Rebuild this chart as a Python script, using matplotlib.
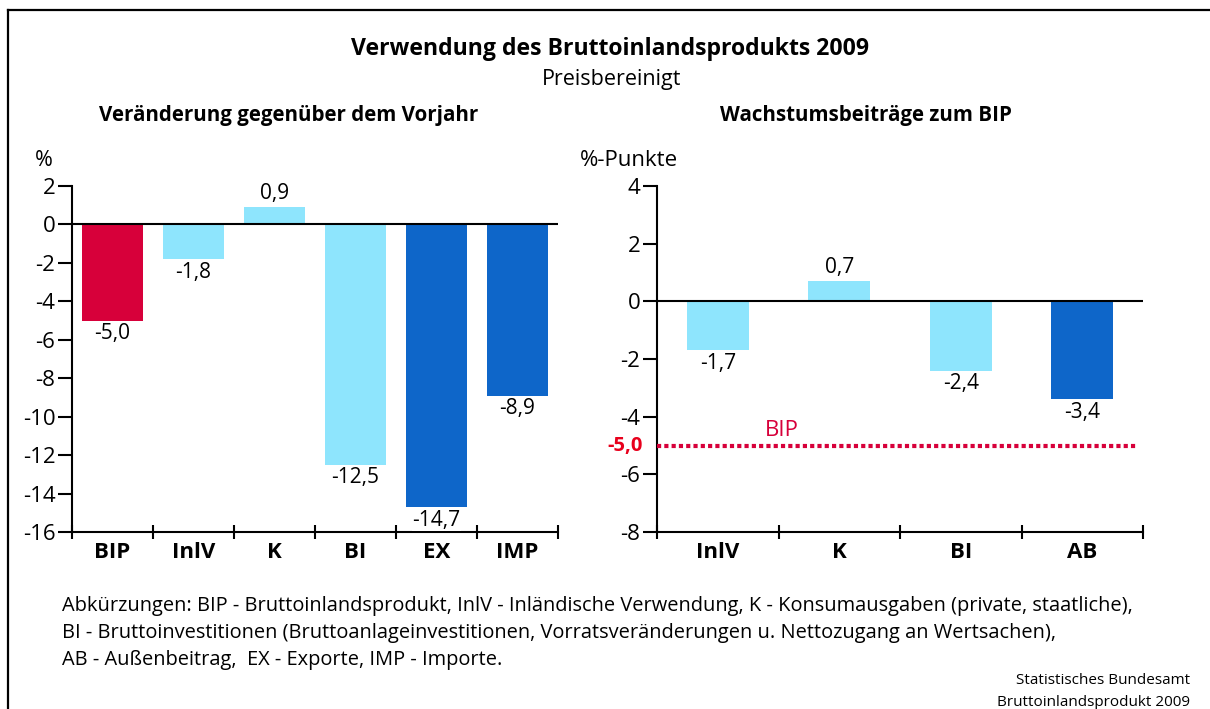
import matplotlib
matplotlib.use("Agg")
import matplotlib.pyplot as plt
from matplotlib.lines import Line2D

plt.rcParams['font.family'] = ['Open Sans', 'DejaVu Sans']

W, H = 1210, 709

# ---- data ----
left_cats = ["BIP", "InlV", "K", "BI", "EX", "IMP"]
left_vals = [-5.0, -1.8, 0.9, -12.5, -14.7, -8.9]
left_labels = ["-5,0", "-1,8", "0,9", "-12,5", "-14,7", "-8,9"]
left_colors = ["#d7003a", "#8ee5fd", "#8ee5fd", "#8ee5fd", "#0e66c9", "#0e66c9"]
left_yticks = [2, 0, -2, -4, -6, -8, -10, -12, -14, -16]

right_cats = ["InlV", "K", "BI", "AB"]
right_vals = [-1.7, 0.7, -2.4, -3.4]
right_labels = ["-1,7", "0,7", "-2,4", "-3,4"]
right_colors = ["#8ee5fd", "#8ee5fd", "#8ee5fd", "#0e66c9"]
right_yticks = [4, 2, 0, -2, -4, -6, -8]
bip_value = -5.0
bip_label = "-5,0"

RED = "#d7003a"


def px_axes(fig, x0, x1, ytop, ybot):
    return fig.add_axes([x0 / W, 1 - ybot / H, (x1 - x0) / W, (ybot - ytop) / H])


fig = plt.figure(figsize=(W / 100, H / 100), dpi=100)

# frame (left + top)
fig.add_artist(Line2D([8 / W, 8 / W], [0, 1 - 10 / H], color="black", lw=1.6))
fig.add_artist(Line2D([8 / W, 1], [1 - 10 / H, 1 - 10 / H], color="black", lw=1.6))

fig.text(610 / W, 1 - 49 / H, "Verwendung des Bruttoinlandsprodukts 2009",
         ha="center", va="center", fontsize=16.6, fontweight="bold")
fig.text(612 / W, 1 - 80 / H, "Preisbereinigt", ha="center", va="center", fontsize=15.5)
fig.text(289 / W, 1 - 115 / H, "Veränderung gegenüber dem Vorjahr",
         ha="center", va="center", fontsize=14.8, fontweight="bold")
fig.text(866 / W, 1 - 115 / H, "Wachstumsbeiträge zum BIP",
         ha="center", va="center", fontsize=14.8, fontweight="bold")
fig.text(35 / W, 1 - 160 / H, "%", ha="left", va="center", fontsize=15.5)
fig.text(580 / W, 1 - 160 / H, "%-Punkte", ha="left", va="center", fontsize=16)

TICK_FS = 16
CAT_FS = 16
VAL_FS = 15


def style_axes(ax, n, yticks, ylim):
    ax.set_xlim(-0.5, n - 0.5)
    ax.set_ylim(*ylim)
    for s in ["top", "right"]:
        ax.spines[s].set_visible(False)
    ax.spines["left"].set_linewidth(1.5)
    ax.spines["bottom"].set_linewidth(1.5)
    ax.set_yticks(yticks)
    ax.set_yticklabels([str(t) for t in yticks])
    ax.tick_params(axis="y", length=10, width=1.5, labelsize=TICK_FS, pad=2)
    ax.set_xticks([i - 0.5 for i in range(n + 1)])
    ax.set_xticklabels([])
    ax.tick_params(axis="x", which="major", length=10, width=1.5, direction="inout")
    ax.axhline(0, color="black", lw=1.5, zorder=3)
    ax.patch.set_alpha(0)


# ---- left chart ----
axL = px_axes(fig, 72, 558, 186, 532)
style_axes(axL, len(left_cats), left_yticks, (-16, 2))
axL.bar(range(len(left_cats)), left_vals, width=0.75, color=left_colors, zorder=2)
axL.set_xticks(range(len(left_cats)), minor=True)
axL.set_xticklabels(left_cats, minor=True, fontsize=CAT_FS, fontweight="bold")
axL.tick_params(axis="x", which="minor", length=0, pad=7)
for i, (v, lab) in enumerate(zip(left_vals, left_labels)):
    if v >= 0:
        axL.annotate(lab, (i, v), xytext=(0, 2), textcoords="offset points",
                     ha="center", va="bottom", fontsize=VAL_FS)
    else:
        bbox = dict(facecolor="white", edgecolor="none", pad=0.5) if i == 4 else None
        axL.annotate(lab, (i, v), xytext=(0, -2), textcoords="offset points",
                     ha="center", va="top", fontsize=VAL_FS, bbox=bbox, zorder=5)

# ---- right chart ----
axR = px_axes(fig, 657, 1143, 186, 532)
style_axes(axR, len(right_cats), right_yticks, (-8, 4))
axR.bar(range(len(right_cats)), right_vals, width=0.51, color=right_colors, zorder=2)
axR.set_xticks(range(len(right_cats)), minor=True)
axR.set_xticklabels(right_cats, minor=True, fontsize=CAT_FS, fontweight="bold")
axR.tick_params(axis="x", which="minor", length=0, pad=7)
for i, (v, lab) in enumerate(zip(right_vals, right_labels)):
    if v >= 0:
        axR.annotate(lab, (i, v), xytext=(0, 2), textcoords="offset points",
                     ha="center", va="bottom", fontsize=VAL_FS)
    else:
        axR.annotate(lab, (i, v), xytext=(0, -2), textcoords="offset points",
                     ha="center", va="top", fontsize=VAL_FS)
axR.plot([-0.5, 3.45], [bip_value, bip_value], color=RED, lw=3,
         linestyle=(0, (1, 0.75)), solid_capstyle="butt", dash_capstyle="butt", zorder=4,
         clip_on=False)
axR.annotate(bip_label, (-0.5, bip_value), xytext=(-10, 0), textcoords="offset points",
             ha="right", va="center", color="#e8001c", fontsize=14.5, fontweight="bold")
axR.annotate("BIP", (0.39, bip_value), xytext=(0, 3), textcoords="offset points",
             ha="left", va="bottom", color=RED, fontsize=16)

# ---- footnotes ----
notes = [
    "Abkürzungen: BIP - Bruttoinlandsprodukt, InlV - Inländische Verwendung, K - Konsumausgaben (private, staatliche),",
    "BI - Bruttoinvestitionen (Bruttoanlageinvestitionen, Vorratsveränderungen u. Nettozugang an Wertsachen),",
    "AB - Außenbeitrag,  EX - Exporte, IMP - Importe.",
]
for k, line in enumerate(notes):
    fig.text(62 / W, 1 - (606 + 27 * k) / H, line, ha="left", va="center", fontsize=14.4)
fig.text(1190 / W, 1 - 680 / H, "Statistisches Bundesamt", ha="right", va="center", fontsize=11)
fig.text(1190 / W, 1 - 702 / H, "Bruttoinlandsprodukt 2009", ha="right", va="center", fontsize=11)

fig.savefig("out.png", dpi=100)
